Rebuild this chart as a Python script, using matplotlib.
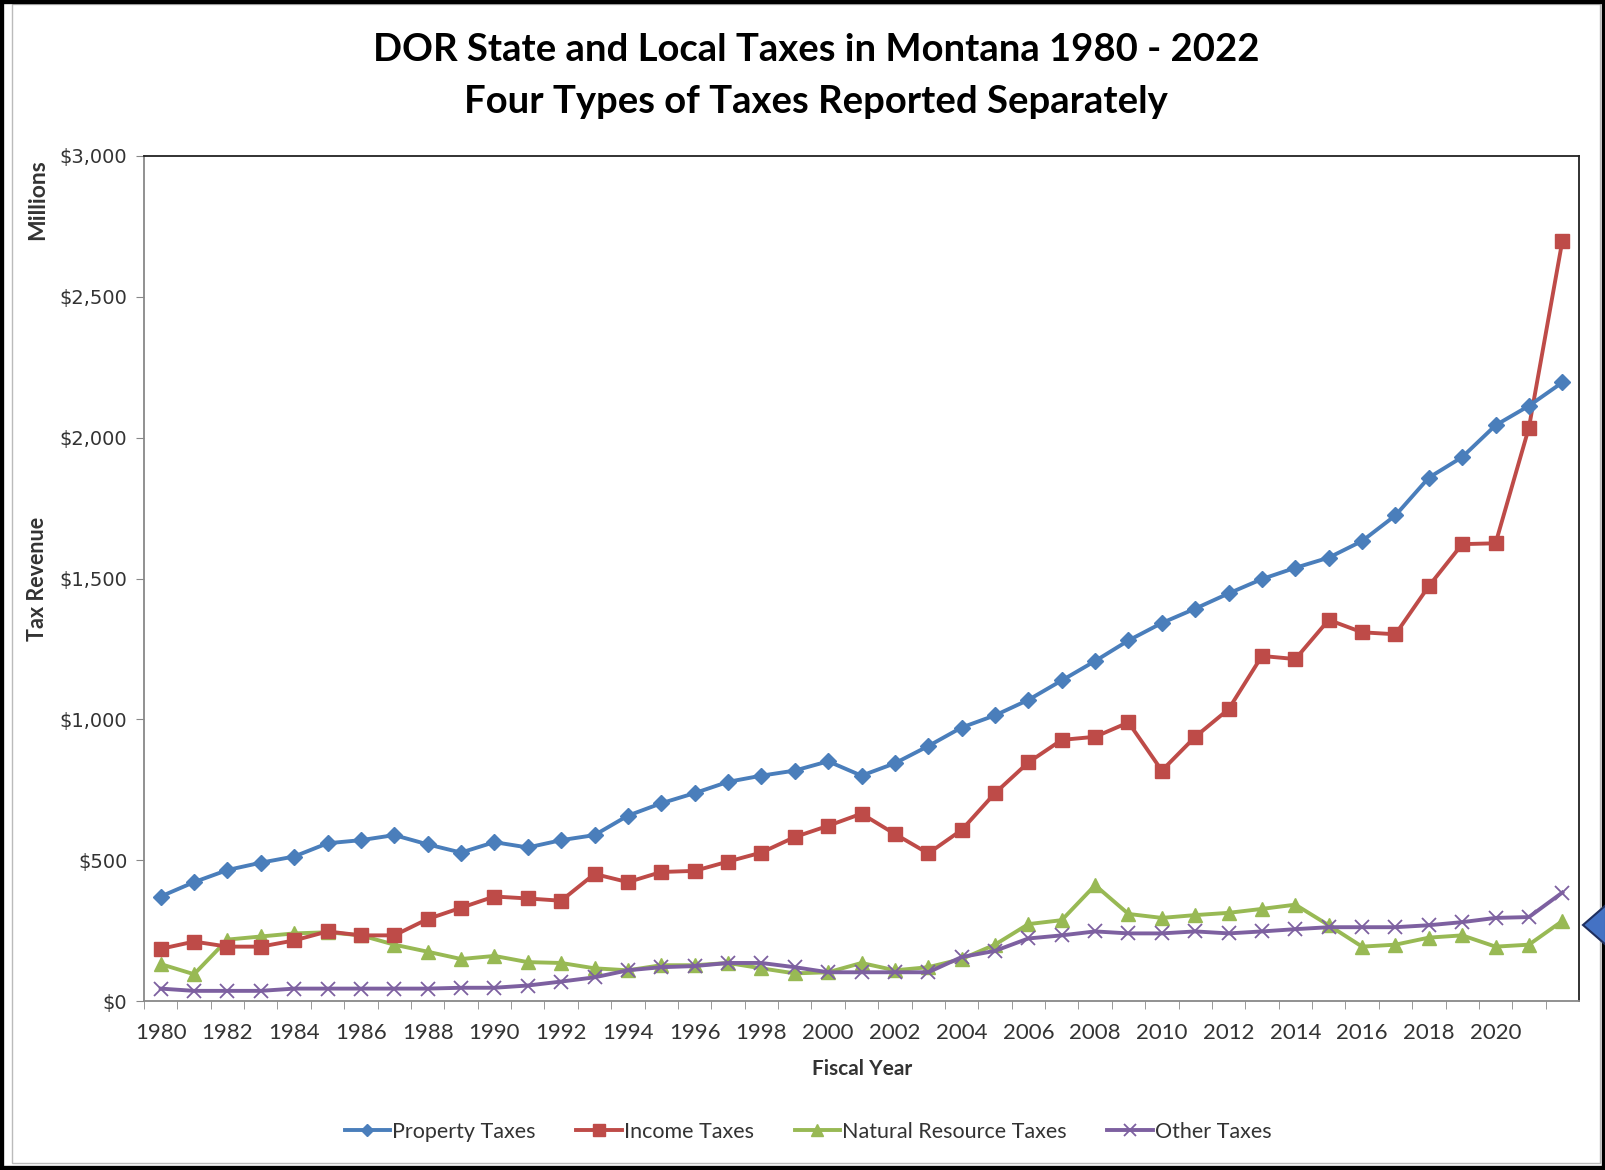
import matplotlib.pyplot as plt
from matplotlib.patches import Rectangle, Polygon
from matplotlib.ticker import FuncFormatter, MultipleLocator

# Fiscal years and tax revenue (millions of dollars)
years = list(range(1980, 2023))

property_taxes = [371, 422, 465, 491, 513, 560, 571, 589, 556, 527,
                  564, 545, 571, 589, 658, 702, 738, 778, 800, 818,
                  851, 800, 844, 905, 971, 1014, 1069, 1138, 1207, 1280,
                  1342, 1393, 1447, 1498, 1538, 1574, 1633, 1724, 1858, 1931,
                  2044, 2113, 2196]

income_taxes = [185, 211, 193, 193, 215, 247, 233, 233, 291, 331,
                371, 364, 356, 451, 422, 458, 462, 495, 527, 582,
                622, 665, 593, 524, 607, 738, 847, 927, 938, 989,
                818, 938, 1036, 1225, 1214, 1353, 1309, 1302, 1473, 1622,
                1625, 2036, 2698]

natural_resource_taxes = [131, 95, 218, 229, 240, 244, 233, 200, 175, 149,
                          160, 138, 135, 116, 109, 127, 127, 135, 116, 98,
                          102, 135, 109, 120, 149, 200, 273, 287, 411, 309,
                          295, 305, 313, 327, 342, 269, 193, 200, 225, 233,
                          193, 200, 284]

other_taxes = [44, 36, 36, 36, 44, 44, 44, 44, 44, 47,
               47, 55, 69, 84, 109, 120, 124, 135, 135, 120,
               102, 102, 102, 102, 156, 178, 222, 233, 247, 240,
               240, 247, 240, 247, 255, 262, 262, 262, 269, 280,
               295, 298, 385]

W, H = 1606, 1170
fig = plt.figure(figsize=(W / 100, H / 100), dpi=100)
fig.patch.set_facecolor("white")

# plot area (pixel box converted to figure fractions)
ax = fig.add_axes([144 / W, 1 - 1001 / H, (1579 - 144) / W, (1001 - 156) / H])

ax.plot(years, property_taxes, color="#4A7EBB", lw=2.8, marker="D", ms=8,
        label="Property Taxes", zorder=4)
ax.plot(years, income_taxes, color="#BE4B48", lw=2.8, marker="s", ms=10,
        label="Income Taxes", zorder=3)
ax.plot(years, natural_resource_taxes, color="#98B954", lw=2.8, marker="^", ms=10,
        label="Natural Resource Taxes", zorder=2)
ax.plot(years, other_taxes, color="#7D60A0", lw=2.8, marker="x", ms=10, mew=1.3,
        label="Other Taxes", zorder=2)

ax.set_xlim(1979.5, 2022.5)
ax.set_ylim(0, 3000)

# y axis
ax.yaxis.set_major_locator(MultipleLocator(500))
ax.yaxis.set_major_formatter(FuncFormatter(lambda v, p: "${:,.0f}".format(v)))
ax.tick_params(axis="y", direction="out", length=6, color="#888888",
               labelsize=14, labelcolor="#333333", pad=6)
for lab in ax.get_yticklabels():
    lab.set_family("DejaVu Sans")

# x axis: labels every two years, tick marks between categories
ax.set_xticks(list(range(1980, 2021, 2)))
ax.set_xticks([y + 0.5 for y in range(1979, 2022)], minor=True)
ax.tick_params(axis="x", which="major", length=0, labelsize=16,
               labelcolor="#333333", pad=16)
ax.tick_params(axis="x", which="minor", direction="out", length=6, color="#888888")
for lab in ax.get_xticklabels():
    lab.set_family("Lato")

for side in ["left", "bottom"]:
    ax.spines[side].set_color("#888888")
    ax.spines[side].set_linewidth(1.3)
for side in ["top", "right"]:
    ax.spines[side].set_color("#222222")
    ax.spines[side].set_linewidth(1.3)

# titles and axis labels
fig.text(816 / W, 1 - 50 / H, "DOR State and Local Taxes in Montana 1980 - 2022",
         ha="center", va="center", fontsize=27.5, fontweight="bold", family="Lato")
fig.text(816 / W, 1 - 102 / H, "Four Types of Taxes Reported Separately",
         ha="center", va="center", fontsize=27.5, fontweight="bold", family="Lato")
fig.text(38 / W, 1 - 579 / H, "Tax Revenue", rotation=90, ha="center", va="center",
         fontsize=15.5, fontweight="bold", family="Lato", color="#333333")
fig.text(38 / W, 1 - 200 / H, "Millions", rotation=90, ha="center", va="center",
         fontsize=16.5, fontweight="bold", family="Lato", color="#333333")
fig.text(862 / W, 1 - 1069 / H, "Fiscal Year", ha="center", va="center",
         fontsize=15, fontweight="bold", family="Lato", color="#333333")

leg = fig.legend(loc="center", bbox_to_anchor=(808 / W, 1 - 1132 / H), ncol=4,
                 frameon=False, handlelength=2.1, handletextpad=0.1,
                 columnspacing=1.9, markerscale=0.8,
                 prop={"family": "Lato", "size": 15.5})
for t in leg.get_texts():
    t.set_color("#333333")

# outer frame of the chart image
fig.add_artist(Rectangle((12 / W, 1 - 1163 / H), (1600 - 12) / W, (1163 - 4) / H,
                         transform=fig.transFigure, fill=False,
                         ec="#bbbbbb", lw=1))
fig.add_artist(Rectangle((0, 0), 1, 1, transform=fig.transFigure, fill=False,
                         ec="black", lw=6))

# stray blue pointer on the right edge
fig.add_artist(Polygon([(1583 / W, 1 - 925 / H), (1606 / W, 1 - 905 / H),
                        (1606 / W, 1 - 945 / H)], closed=True,
                       transform=fig.transFigure, fc="#4472C4", ec="#1F2F5F", lw=1.5))

fig.savefig("out.png", dpi=100)
